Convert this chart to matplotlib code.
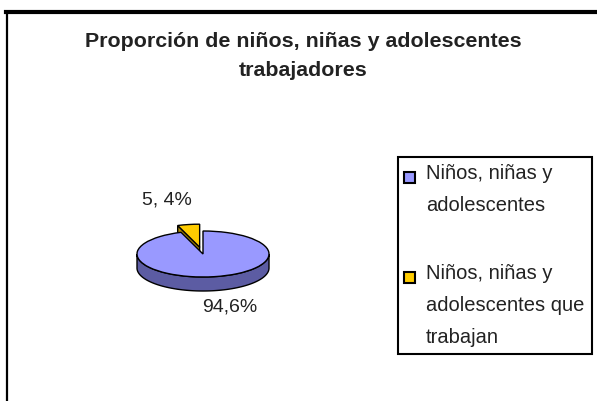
import numpy as np
import matplotlib.pyplot as plt
from matplotlib.patches import Polygon, Rectangle
from matplotlib.lines import Line2D

plt.rcParams['font.family'] = ['Liberation Sans', 'DejaVu Sans']

# Datos
titulo = ['Proporción de niños, niñas y adolescentes', 'trabajadores']
valores = [94.6, 5.4]
etiquetas = [['Niños, niñas y', 'adolescentes'],
             ['Niños, niñas y', 'adolescentes que', 'trabajan']]
textos_valor = ['94,6%', '5, 4%']
colores = ['#9999FF', '#FFCC00']
colores_lado = ['#5C5CA3', '#B08A00']

W, H = 597, 401
fig = plt.figure(figsize=(W / 100, H / 100), dpi=100)
ax = fig.add_axes([0, 0, 1, 1])

# centro y semiejes de la elipse en pixeles
cx, cy = 203, 147
ux, uy = 66, 23
prof = 14 / uy

wedges, _ = ax.pie(valores, colors=colores, startangle=90 + valores[1] * 3.6,
                   explode=[0, 0.3], counterclock=True,
                   wedgeprops=dict(edgecolor='black', linewidth=1.0))
for w in wedges:
    w.set_zorder(3)

# lado frontal (efecto 3D)
w = wedges[0]
a = max(w.theta1, 180)
b = min(w.theta2, 360)
t = np.radians(np.linspace(a, b, 120))
xs = np.concatenate([np.cos(t), np.cos(t[::-1])])
ys = np.concatenate([np.sin(t), np.sin(t[::-1]) - prof])
ax.add_patch(Polygon(np.column_stack([xs, ys]), closed=True, facecolor=colores_lado[0],
                     edgecolor='black', linewidth=1.0, zorder=2))
# cara del corte del trozo amarillo
w = wedges[1]
c = np.array(w.center)
ang = np.radians(w.theta2)
r = c + np.array([np.cos(ang), np.sin(ang)])
cara = np.array([c, r, r - [0, prof], c - [0, prof]])
ax.add_patch(Polygon(cara, closed=True, facecolor=colores_lado[1],
                     edgecolor='black', linewidth=1.0, zorder=2.5))

ax.set_aspect('auto')
ax.set_xlim(-cx / ux, (W - cx) / ux)
ax.set_ylim(-cy / uy, (H - cy) / uy)
ax.axis('off')

# etiquetas de valores
ax.text(0.41, -2.30, textos_valor[0], ha='center', va='center', fontsize=14, color='#222222')
ax.text(-0.545, 2.35, textos_valor[1], ha='center', va='center', fontsize=14, color='#222222')

# titulo
for i, linea in enumerate(titulo):
    fig.text(0.508, 1 - (47 + 29 * i) / H, linea, ha='center', va='baseline',
             fontsize=15.4, fontweight='bold', color='#222222')

# leyenda
fig.add_artist(Rectangle((398 / W, 1 - 354 / H), (592 - 398) / W, (354 - 157) / H,
                         transform=fig.transFigure, fill=False, edgecolor='black', linewidth=1.5))
bases = [179, 279]
for etq, col, base in zip(etiquetas, colores, bases):
    fig.add_artist(Rectangle((404 / W, 1 - (base + 4) / H), 11 / W, 11 / H,
                             transform=fig.transFigure, facecolor=col,
                             edgecolor='black', linewidth=1.5))
    for i, linea in enumerate(etq):
        fig.text(426 / W, 1 - (base + 32 * i) / H, linea, ha='left', va='baseline',
                 fontsize=14.5, color='#222222')

# borde de la figura
fig.add_artist(Line2D([6 / W, 1], [1 - 12 / H, 1 - 12 / H], transform=fig.transFigure,
                      color='black', linewidth=3))
fig.add_artist(Line2D([7 / W, 7 / W], [0, 1 - 12 / H], transform=fig.transFigure,
                      color='black', linewidth=1.6))

fig.savefig('out.png', dpi=100)
